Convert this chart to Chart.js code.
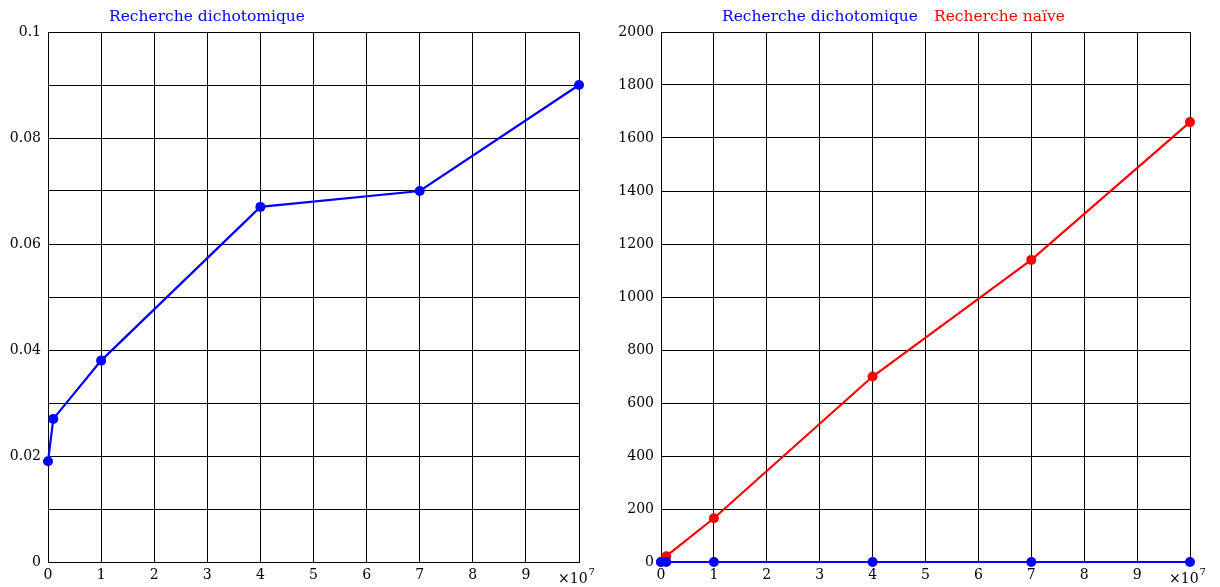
<!DOCTYPE html>
<html>
<head>
<meta charset="utf-8">
<script src="https://cdn.jsdelivr.net/npm/chart.js@4/dist/chart.umd.min.js"></script>
<style>
  html, body { margin: 0; padding: 0; background: #fff; }
  #wrap { position: relative; width: 1220px; height: 587px; }
  .box { position: absolute; top: 0; height: 587px; }
  #b1 { left: 0; width: 600px; }
  #b2 { left: 610px; width: 610px; }
</style>
</head>
<body>
<div id="wrap">
  <div class="box" id="b1"><canvas id="c1"></canvas></div>
  <div class="box" id="b2"><canvas id="c2"></canvas></div>
</div>
<script>
// ---- data ----
const sizes = [0, 1e6, 1e7, 4e7, 7e7, 1e8];
const dichoTimes = [0.019, 0.027, 0.038, 0.067, 0.070, 0.090];
const naiveTimes = [0.2, 22, 165, 700, 1140, 1660];
const xTickLabels = ['0', '1', '2', '3', '4', '5', '6', '7', '8', '9', ''];
const leftYTickLabels = ['0', '0.02', '0.04', '0.06', '0.08', '0.1'];
const rightYTickLabels = ['0', '200', '400', '600', '800', '1000', '1200', '1400', '1600', '1800', '2000'];
const labelDicho = 'Recherche dichotomique';
const labelNaive = 'Recherche naïve';
const xExponentBase = '×10';
const xExponent = '7';

const FONT = '"DejaVu Serif", "Liberation Serif", serif';
const BLUE = '#0000ff';
const RED = '#ff0000';

function pts(xs, ys) { return xs.map((x, i) => ({ x: x, y: ys[i] })); }

const legendPlugin = {
  id: 'textLegend',
  afterDraw(chart, args, opts) {
    const ctx = chart.ctx;
    ctx.save();
    ctx.font = '15.5px ' + FONT;
    ctx.textBaseline = 'middle';
    ctx.textAlign = 'left';
    let x = chart.chartArea.left + opts.offset;
    chart.data.datasets.forEach(ds => {
      ctx.fillStyle = ds.borderColor;
      ctx.fillText(ds.label, x, 17);
      x += ctx.measureText(ds.label).width + opts.gap;
    });
    // x-axis multiplier label
    const xs = chart.scales.x;
    const bx = xs.right - 21;
    const by = 579;
    ctx.fillStyle = '#000';
    ctx.font = '14px ' + FONT;
    ctx.fillText(xExponentBase, bx, by);
    const w = ctx.measureText(xExponentBase).width;
    ctx.font = '10px ' + FONT;
    ctx.fillText(xExponent, bx + w + 1, by - 7);
    ctx.restore();
  }
};

function makeOptions(yMax, yStep, yLabels, labelEvery, yWidth, rightPad) {
  return {
    responsive: true,
    maintainAspectRatio: false,
    animation: false,
    layout: { padding: { top: 32, right: rightPad, bottom: 0, left: 0 } },
    plugins: {
      legend: { display: false },
      tooltip: { enabled: false },
      textLegend: { offset: 61, gap: 16 }
    },
    scales: {
      x: {
        type: 'linear', min: 0, max: 1e8,
        ticks: {
          stepSize: 1e7, color: '#000', padding: 5, maxRotation: 0,
          font: { family: FONT, size: 14 },
          callback: (v) => xTickLabels[Math.round(v / 1e7)]
        },
        grid: { color: '#000', lineWidth: 1, drawTicks: false },
        border: { color: '#000', width: 1 },
        afterFit: (s) => { s.height = 25; }
      },
      y: {
        type: 'linear', min: 0, max: yMax,
        ticks: {
          stepSize: yStep, color: '#000', padding: 7,
          font: { family: FONT, size: 14 },
          callback: (v) => {
            const i = Math.round(v / yStep);
            return i % labelEvery === 0 ? yLabels[i / labelEvery] : '';
          }
        },
        grid: { color: '#000', lineWidth: 1, drawTicks: false },
        border: { color: '#000', width: 1 },
        afterFit: (s) => { s.width = yWidth; }
      }
    }
  };
}

const lineStyle = { showLine: true, clip: false, borderWidth: 2.2, pointRadius: 5, pointBorderWidth: 0 };

new Chart(document.getElementById('c1'), {
  type: 'scatter',
  data: {
    datasets: [Object.assign({
      label: labelDicho,
      data: pts(sizes, dichoTimes),
      borderColor: BLUE, backgroundColor: BLUE
    }, lineStyle)]
  },
  options: makeOptions(0.1, 0.01, leftYTickLabels, 2, 48, 21),
  plugins: [legendPlugin]
});

new Chart(document.getElementById('c2'), {
  type: 'scatter',
  data: {
    datasets: [Object.assign({
      label: labelDicho,
      data: pts(sizes, dichoTimes),
      order: 0,
      borderColor: BLUE, backgroundColor: BLUE
    }, lineStyle), Object.assign({
      label: labelNaive,
      data: pts(sizes, naiveTimes),
      order: 1,
      borderColor: RED, backgroundColor: RED
    }, lineStyle)]
  },
  options: makeOptions(2000, 200, rightYTickLabels, 1, 51, 30),
  plugins: [legendPlugin]
});
</script>
</body>
</html>
